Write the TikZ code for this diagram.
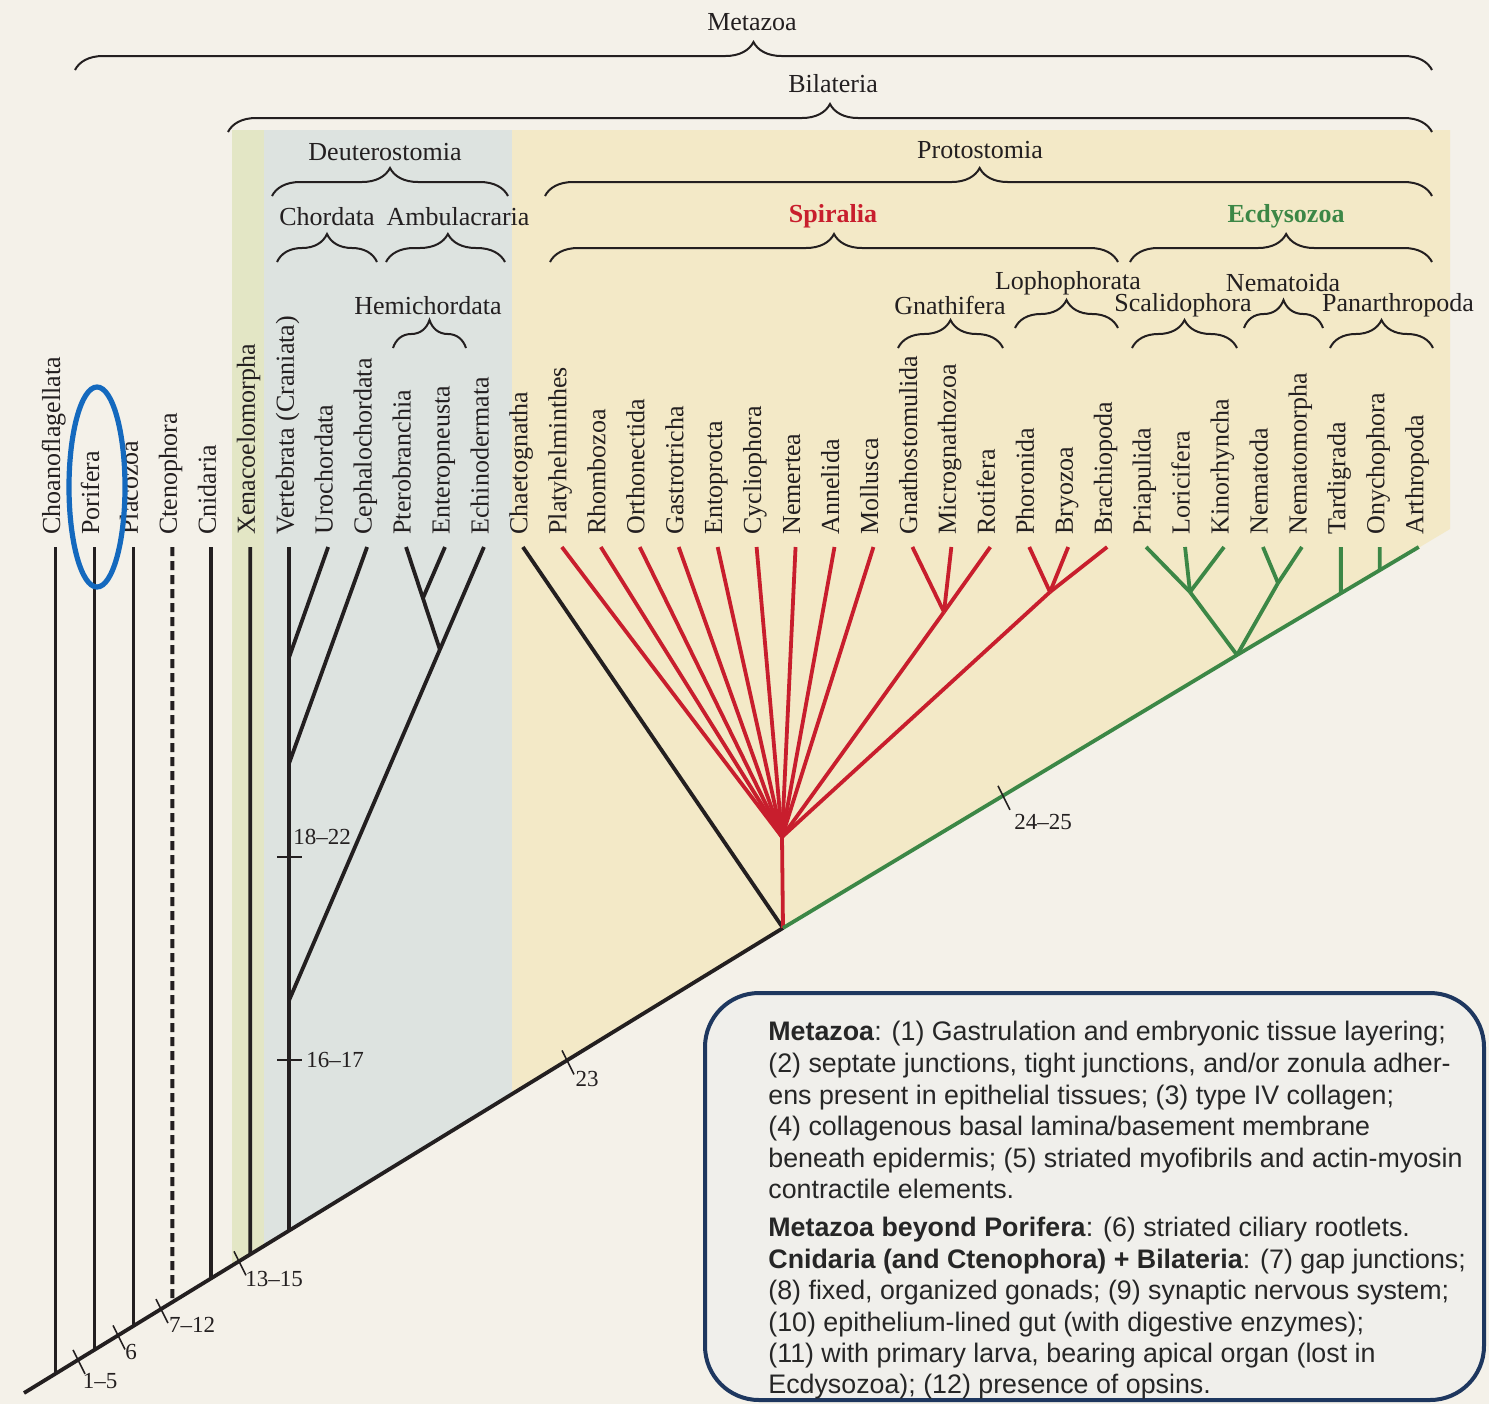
\documentclass[tikz,border=0pt]{standalone}
\usepackage{fontspec}
\setmainfont{Liberation Serif}
\newfontfamily\boxfont{Liberation Sans}
\usetikzlibrary{decorations.pathreplacing}
\definecolor{page}{RGB}{244,241,233}
\definecolor{bandgreen}{RGB}{227,230,197}
\definecolor{bandblue}{RGB}{221,227,224}
\definecolor{bandyellow}{RGB}{243,233,199}
\definecolor{treeblack}{RGB}{35,31,32}
\definecolor{treered}{RGB}{200,30,45}
\definecolor{treegreen}{RGB}{60,135,70}
\definecolor{boxblue}{RGB}{30,55,95}
\definecolor{ovalblue}{RGB}{20,105,190}
\definecolor{boxfill}{RGB}{240,239,235}
\begin{document}
\begin{tikzpicture}[x=0.5pt,y=-0.5pt,
  branch/.style={line width=1.9pt,line cap=butt},
  bbrace/.style={decorate,decoration={brace,amplitude=14pt},line width=1pt,treeblack},
  taxon/.style={rotate=90,anchor=mid west,inner sep=0pt,font=\fontsize{13}{15}\selectfont,text=treeblack},
  clade/.style={inner sep=0pt,font=\fontsize{13}{15}\selectfont,text=treeblack},
  tickmark/.style={line width=0.8pt,treeblack},
  ticklabel/.style={inner sep=0pt,font=\fontsize{11.5}{13}\selectfont,text=treeblack},
  boxline/.style={anchor=base west,inner sep=0pt,font=\boxfont\fontsize{13.4}{16}\selectfont,text=black!85}
]
% page and bounding box
\fill[page] (0,0) rectangle (1489,1404);
\useasboundingbox (0,0) rectangle (1489,1404);
% coloured bands
\fill[bandgreen] (232,130) -- (264,130) -- (264,1246) -- (232,1266) -- cycle;
\fill[bandblue] (264,130) -- (512,130) -- (512,1094) -- (264,1246) -- cycle;
\fill[bandyellow] (512,130) -- (1450,130) -- (1450,529) -- (783,928) -- (512,1094) -- cycle;

% braces
\draw[bbrace] (75,70) -- (1432,70);
\draw[bbrace] (228,132) -- (1432,132);
\draw[bbrace] (272,196) -- (508,196);
\draw[bbrace,decoration={aspect=0.49}] (545,196) -- (1432,196);
\draw[bbrace] (277,262) -- (377,262);
\draw[bbrace,decoration={aspect=0.52}] (386,262) -- (505,262);
\draw[bbrace] (550,262) -- (1118,262);
\draw[bbrace,decoration={aspect=0.517}] (1130,262) -- (1432,262);
\draw[bbrace] (393,348) -- (466,348);
\draw[bbrace] (898,348) -- (1003,348);
\draw[bbrace] (1015,328) -- (1118,328);
\draw[bbrace] (1132,348) -- (1237,348);
\draw[bbrace] (1244,328) -- (1323,328);
\draw[bbrace] (1330,348) -- (1433,348);

% clade labels
\node[clade] (lMeta) at (752,22) {Metazoa};
\node[clade] (lBila) at (833,84) {Bilateria};
\node[clade] (lDeut) at (385,152) {Deuterostomia};
\node[clade] (lProt) at (980,150) {Protostomia};
\node[clade] (lChor) at (327,217) {Chordata};
\node[clade] (lAmbu) at (458,217) {Ambulacraria};
\node[clade,text=treered] (lSpir) at (833,216) {\bfseries Spiralia};
\node[clade,text=treegreen] (lEcdy) at (1286,216) {\bfseries Ecdysozoa};
\node[clade] (lHemi) at (428,306) {Hemichordata};
\node[clade] (lGnat) at (950,305) {Gnathifera};
\node[clade] (lLoph) at (1068,283) {Lophophorata};
\node[clade] (lScal) at (1183,305) {Scalidophora};
\node[clade] (lNema) at (1283,283) {Nematoida};
\node[clade] (lPana) at (1398,305) {Panarthropoda};

% taxa
\foreach \nm [count=\i from 0] in {Choanoflagellata,Porifera,Placozoa,Ctenophora,Cnidaria,Xenacoelomorpha,Vertebrata (Craniata),Urochordata,Cephalochordata,Pterobranchia,Enteropneusta,Echinodermata,Chaetognatha,Platyhelminthes,Rhombozoa,Orthonectida,Gastrotricha,Entoprocta,Cycliophora,Nemertea,Annelida,Mollusca,Gnathostomulida,Micrognathozoa,Rotifera,Phoronida,Bryozoa,Brachiopoda,Priapulida,Loricifera,Kinorhyncha,Nematoda,Nematomorpha,Tardigrada,Onychophora,Arthropoda}{
  \pgfmathsetmacro\xx{55.5+38.95*\i}
  \node[taxon] (t\i) at (\xx,535) {\nm};
  \coordinate (p\i) at (\xx,547);
}

% internal nodes
\coordinate (root) at (24,1393);
\coordinate (prot) at (783,928);
\coordinate (ecd) at (1237,655);
\coordinate (s0) at (55.5,1373.7);
\coordinate (s1) at (94.45,1349.8);
\coordinate (s2) at (133.4,1326.0);
\coordinate (s3) at (172.35,1302.1);
\coordinate (s4) at (211.3,1278.3);
\coordinate (s5) at (250.25,1254.4);
\coordinate (s6) at (289.2,1230.5);
\coordinate (uro) at (289.2,657);
\coordinate (cep) at (289.2,763);
\coordinate (deu) at (289.2,1000);
\coordinate (amb) at (440,650);
\coordinate (hem) at (423,598);
\coordinate (fan) at (782,837);
\coordinate (gn) at (944,612);
\coordinate (lo) at (1050,592);
\coordinate (scal) at (1190,592);
\coordinate (nem) at (1278,583);
\coordinate (tard) at (1340.85,593.3);
\coordinate (onyc) at (1379.8,570.2);

% black part
\draw[branch,treeblack] (root) -- (prot);
\foreach \i in {0,1,2,4,5,6}{\draw[branch,treeblack] (p\i) -- (s\i);}
\draw[branch,treeblack,dash pattern=on 4.5pt off 2.5pt] (p3) -- (s3);
\draw[branch,treeblack] (p7) -- (uro);
\draw[branch,treeblack] (p8) -- (cep);
\draw[branch,treeblack] (p11) -- (deu);
\draw[branch,treeblack] (p9) -- (amb);
\draw[branch,treeblack] (p10) -- (hem);
\draw[branch,treeblack] (p12) -- (prot);

% Spiralia (red)
\draw[branch,treered] (prot) -- (fan);
\foreach \i in {13,...,21}{\draw[branch,treered] (p\i) -- (fan);}
\foreach \i in {22,23,24}{\draw[branch,treered] (p\i) -- (gn);}
\foreach \i in {25,26,27}{\draw[branch,treered] (p\i) -- (lo);}
\draw[branch,treered] (gn) -- (fan);
\draw[branch,treered] (lo) -- (fan);

% Ecdysozoa (green)
\draw[branch,treegreen] (prot) -- (ecd) -- (p35);
\foreach \i in {28,29,30}{\draw[branch,treegreen] (p\i) -- (scal);}
\draw[branch,treegreen] (scal) -- (ecd);
\foreach \i in {31,32}{\draw[branch,treegreen] (p\i) -- (nem);}
\draw[branch,treegreen] (nem) -- (ecd);
\draw[branch,treegreen] (p33) -- (tard);
\draw[branch,treegreen] (p34) -- (onyc);

% character ticks
\coordinate (c15) at (78,1359.9);
\coordinate (c6) at (118,1335.4);
\coordinate (c712) at (161,1309.1);
\coordinate (c1315) at (239,1261.3);
\coordinate (c23) at (567,1060.4);
\coordinate (c2425) at (1003,795.8);
\foreach \c in {c15,c6,c712,c1315,c23,c2425}{\draw[tickmark] (\c) ++(-5,-10) -- ++(12,24);}
\draw[tickmark] (277,857) -- (302,857);
\draw[tickmark] (277,1060) -- (302,1060);
\node[ticklabel] (n15) at (100,1381) {1--5};
\node[ticklabel] (n6) at (131,1352) {6};
\node[ticklabel] (n712) at (192,1325) {7--12};
\node[ticklabel] (n1315) at (274,1279) {13--15};
\node[ticklabel] (n23) at (587,1079) {23};
\node[ticklabel] (n2425) at (1043,822) {24--25};
\node[ticklabel,anchor=west] (n1822) at (293,837) {18--22};
\node[ticklabel,anchor=west] (n1617) at (306,1060) {16--17};

% Porifera highlight
\draw[ovalblue,line width=2.6pt] (97,487) ellipse [x radius=28, y radius=100];

% character box
\draw[boxblue,line width=2pt,fill=boxfill,rounded corners=27pt] (705,993) rectangle (1484,1400);
\node[boxline] (b1) at (768,1040) {\textbf{Metazoa}: (1) Gastrulation and embryonic tissue layering;};
\node[boxline] (b2) at (768,1072) {(2) septate junctions, tight junctions, and/or zonula adher-};
\node[boxline] (b3) at (768,1104) {ens present in epithelial tissues; (3) type IV collagen;};
\node[boxline] (b4) at (768,1135) {(4) collagenous basal lamina/basement membrane};
\node[boxline] (b5) at (768,1167) {beneath epidermis; (5) striated myofibrils and actin-myosin};
\node[boxline] (b6) at (768,1198) {contractile elements.};
\node[boxline] (b7) at (768,1236) {\textbf{Metazoa beyond Porifera}: (6) striated ciliary rootlets.};
\node[boxline] (b8) at (768,1268) {\textbf{Cnidaria (and Ctenophora) + Bilateria}: (7) gap junctions;};
\node[boxline] (b9) at (768,1299) {(8) fixed, organized gonads; (9) synaptic nervous system;};
\node[boxline] (b10) at (768,1331) {(10) epithelium-lined gut (with digestive enzymes);};
\node[boxline] (b11) at (768,1362) {(11) with primary larva, bearing apical organ (lost in};
\node[boxline] (b12) at (768,1393) {Ecdysozoa); (12) presence of opsins.};
\end{tikzpicture}
\end{document}
